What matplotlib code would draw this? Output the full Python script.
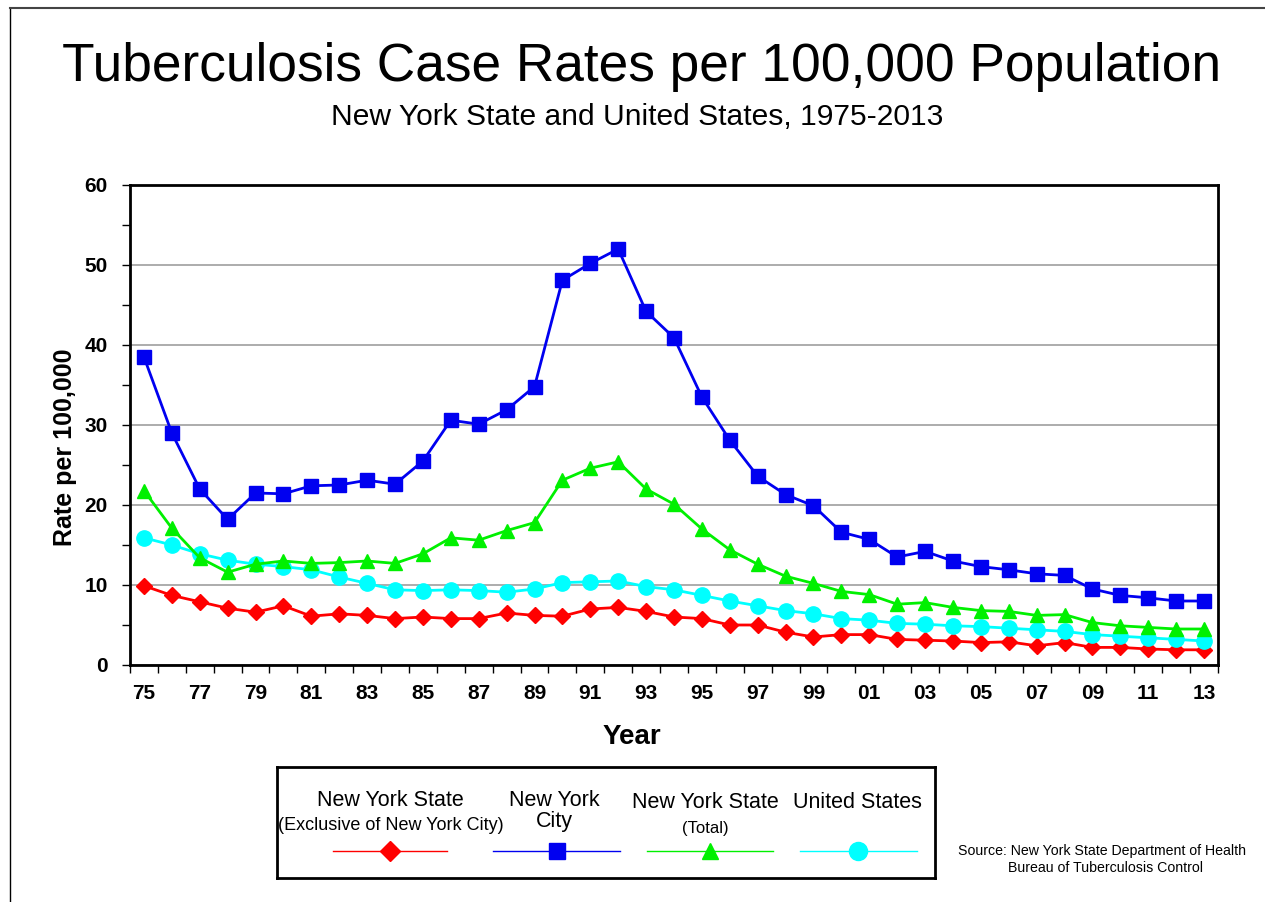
import numpy as np
import matplotlib
matplotlib.use("Agg")
import matplotlib.pyplot as plt
from matplotlib.lines import Line2D

plt.rcParams['font.family'] = ['Liberation Sans', 'DejaVu Sans']

years = list(range(1975, 2014))
year_labels = [str(y)[2:] for y in years]

nyc = [38.5, 29.0, 22.0, 18.2, 21.5, 21.4, 22.4, 22.5, 23.1, 22.6,
       25.5, 30.6, 30.1, 31.9, 34.8, 48.1, 50.2, 52.0, 44.2, 40.9,
       33.5, 28.1, 23.6, 21.3, 19.9, 16.6, 15.7, 13.5, 14.2, 13.0,
       12.3, 11.9, 11.4, 11.2, 9.5, 8.7, 8.4, 8.0, 8.0]
nys_total = [21.8, 17.1, 13.4, 11.6, 12.6, 13.0, 12.7, 12.8, 13.0, 12.7,
             13.9, 15.9, 15.6, 16.8, 17.8, 23.1, 24.6, 25.4, 22.0, 20.1,
             17.0, 14.4, 12.6, 11.1, 10.2, 9.2, 8.8, 7.6, 7.8, 7.2,
             6.8, 6.7, 6.2, 6.3, 5.3, 4.9, 4.7, 4.5, 4.5]
us = [15.9, 15.0, 13.9, 13.1, 12.6, 12.3, 11.9, 11.0, 10.2, 9.4,
      9.3, 9.4, 9.3, 9.1, 9.5, 10.3, 10.4, 10.5, 9.8, 9.4,
      8.7, 8.0, 7.4, 6.8, 6.4, 5.8, 5.6, 5.2, 5.1, 4.9,
      4.8, 4.6, 4.4, 4.2, 3.8, 3.6, 3.4, 3.2, 3.0]
nys_excl = [9.9, 8.7, 7.9, 7.1, 6.6, 7.4, 6.1, 6.4, 6.2, 5.8,
            6.0, 5.8, 5.8, 6.5, 6.2, 6.1, 7.0, 7.2, 6.7, 6.0,
            5.8, 5.0, 5.0, 4.1, 3.5, 3.8, 3.8, 3.2, 3.1, 3.0,
            2.8, 2.9, 2.4, 2.8, 2.2, 2.2, 2.0, 1.9, 1.9]

RED = '#ff0000'
BLUE = '#0000f0'
GREEN = '#00f000'
CYAN = '#00ffff'

fig = plt.figure(figsize=(12.65, 9.02), dpi=100)

# slide frame (left and top edges)
fig.add_artist(Line2D([10/1265, 10/1265], [0, 1 - 8/902], transform=fig.transFigure, color='black', lw=1))
fig.add_artist(Line2D([10/1265, 1], [1 - 8/902, 1 - 8/902], transform=fig.transFigure, color='#444444', lw=1.5))

fig.text(0.507, 1 - 67/902, 'Tuberculosis Case Rates per 100,000 Population', ha='center', va='center', fontsize=38.3)
fig.text(0.504, 1 - 117/902, 'New York State and United States, 1975-2013', ha='center', va='center', fontsize=21.6)

ax = fig.add_axes([130/1265, 237/902, 1088/1265, 480/902])
x = np.arange(len(years))

ax.set_axisbelow(True)
ax.grid(axis='y', color='#a6a6a6', lw=1.3)
ax.plot(x, nys_excl, color=RED, lw=2, marker='D', ms=8, zorder=3)
ax.plot(x, us, color=CYAN, lw=2, marker='o', ms=11, zorder=4)
ax.plot(x, nys_total, color=GREEN, lw=2, marker='^', ms=10, zorder=5)
ax.plot(x, nyc, color=BLUE, lw=2, marker='s', ms=10, zorder=6)

ax.set_xlim(-0.5, len(years) - 0.5)
ax.set_ylim(0, 60)
ax.set_yticks(np.arange(0, 61, 10))
ax.set_yticks(np.arange(0, 61, 5), minor=True)
ax.set_yticklabels([str(v) for v in range(0, 61, 10)], fontsize=15, fontweight='bold')
ax.set_xticks(x[::2])
ax.set_xticklabels(year_labels[::2], fontsize=15, fontweight='bold')
ax.set_xticks(np.arange(-0.5, len(years)), minor=True)
ax.tick_params(axis='x', which='major', length=0, pad=14)
ax.tick_params(axis='x', which='minor', length=6, width=1, direction='out')
ax.tick_params(axis='y', which='both', length=6, width=1, direction='out', pad=10)
for s in ax.spines.values():
    s.set_linewidth(2)

ax.set_xlabel('Year', fontsize=20, fontweight='bold')
ax.xaxis.set_label_coords((632 - 130) / 1088, -(724 - 665) / 480)
ax.set_ylabel('Rate per 100,000', fontsize=18, fontweight='bold')
ax.yaxis.set_label_coords(-(130 - 77) / 1088, (665 - 447) / 480)

# legend box
lx0, lx1, ly0, ly1 = 277, 935, 767, 878
lax = fig.add_axes([lx0/1265, 1 - ly1/902, (lx1 - lx0)/1265, (ly1 - ly0)/902])
lax.set_xlim(lx0, lx1)
lax.set_ylim(ly1, ly0)
lax.set_xticks([])
lax.set_yticks([])
for s in lax.spines.values():
    s.set_linewidth(2)

lax.text(390, 800, 'New York State', ha='center', va='center', fontsize=15.5)
lax.text(391, 826, '(Exclusive of New York City)', ha='center', va='center', fontsize=13)
lax.text(554, 800, 'New York', ha='center', va='center', fontsize=15.5)
lax.text(554, 822, 'City', ha='center', va='center', fontsize=15.5)
lax.text(705, 802, 'New York State', ha='center', va='center', fontsize=15.5)
lax.text(705, 829, '(Total)', ha='center', va='center', fontsize=12)
lax.text(857, 803, 'United States', ha='center', va='center', fontsize=15.5)

leg_items = [(333, 447, RED, 'D', 10), (493, 620, BLUE, 's', 11),
             (647, 773, GREEN, '^', 11), (800, 917, CYAN, 'o', 13)]
for a, b, c, m, ms in leg_items:
    lax.plot([a, b], [851, 851], color=c, lw=1)
    lax.plot([(a + b) / 2], [851], color=c, marker=m, ms=ms, ls='none')

fig.text(1102/1265, 1 - 851/902, 'Source: New York State Department of Health', ha='center', va='center', fontsize=10.2)
fig.text(1106/1265, 1 - 868/902, 'Bureau of Tuberculosis Control', ha='center', va='center', fontsize=10.2)

fig.savefig('out.png', dpi=100)
